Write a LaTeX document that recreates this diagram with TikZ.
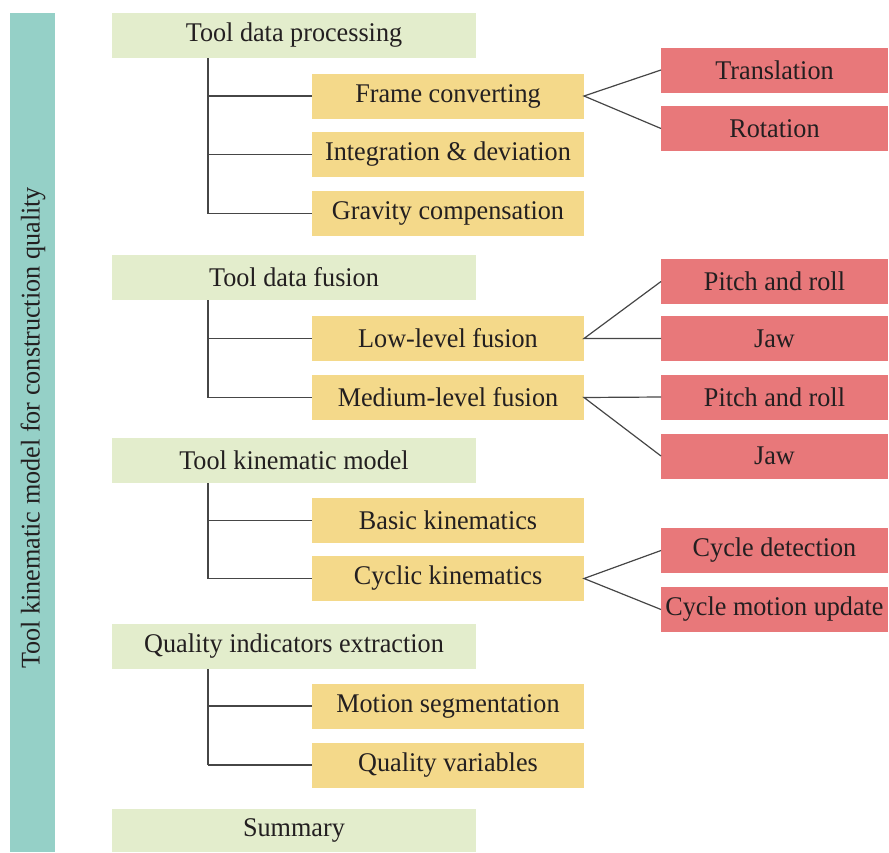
\documentclass[tikz,border=0pt]{standalone}
\usepackage{fontspec}
\setmainfont{Liberation Serif}[FakeStretch=0.97]
\definecolor{barteal}{RGB}{149,208,199}
\definecolor{lvlgreen}{RGB}{227,237,204}
\definecolor{lvlyellow}{RGB}{244,217,138}
\definecolor{lvlred}{RGB}{232,120,122}
\definecolor{inktext}{RGB}{35,31,32}
\definecolor{linkgray}{RGB}{70,70,70}
\begin{document}
\begin{tikzpicture}[x=1pt,y=-1pt,
  every node/.style={inner sep=0pt, outer sep=0pt, text=inktext,
    font=\fontsize{27}{30}\selectfont},
  chapter/.style={fill=lvlgreen, minimum width=364pt, minimum height=45pt},
  section/.style={fill=lvlyellow, minimum width=272pt, minimum height=45pt},
  detail/.style={fill=lvlred, minimum width=227pt, minimum height=45pt},
  link/.style={draw=linkgray, line width=1.2pt}]
\useasboundingbox (0,0) rectangle (889,852);

% vertical title bar
\fill[barteal] (10,13) rectangle (55,852);
\node[rotate=90] (title) at (33,428) {Tool kinematic model for construction quality};

% chapters
\node[chapter] (c1) at (294,35.5) {Tool data processing};
\node[chapter] (c2) at (294,277.5) {Tool data fusion};
\node[chapter] (c3) at (294,460.5) {Tool kinematic model};
\node[chapter] (c4) at (294,646.5) {Quality indicators extraction};
\node[chapter, minimum height=43pt] (c5) at (294,830.5) {Summary};

% sections
\node[section] (s11) at (448,96) {Frame converting};
\node[section] (s12) at (448,154.5) {Integration \& deviation};
\node[section] (s13) at (448,213.5) {Gravity compensation};
\node[section] (s21) at (448,338.5) {Low-level fusion};
\node[section] (s22) at (448,397.5) {Medium-level fusion};
\node[section] (s31) at (448,520.5) {Basic kinematics};
\node[section] (s32) at (448,578.5) {Cyclic kinematics};
\node[section] (s41) at (448,706) {Motion segmentation};
\node[section] (s42) at (448,765) {Quality variables};

% details
\node[detail] (d1) at (774.5,70) {Translation};
\node[detail] (d2) at (774.5,128.5) {Rotation};
\node[detail] (d3) at (774.5,281.5) {Pitch and roll};
\node[detail] (d4) at (774.5,338.5) {Jaw};
\node[detail] (d5) at (774.5,397) {Pitch and roll};
\node[detail] (d6) at (774.5,456) {Jaw};
\node[detail] (d7) at (774.5,550.5) {Cycle detection};
\node[detail] (d8) at (774.5,609.5) {Cycle motion update};

% tree branches
\foreach \c/\last/\list in {c1/s13/{s11,s12,s13}, c2/s22/{s21,s22}, c3/s32/{s31,s32}, c4/s42/{s41,s42}}{
  \draw[link] (\c.south -| 208,0) -- (\last.west -| 208,0);
  \foreach \s in \list { \draw[link] (\s.west -| 208,0) -- (\s.west); }
}

% fan-out connectors
\foreach \s/\a/\b in {s11/d1/d2, s21/d3/d4, s22/d5/d6, s32/d7/d8}{
  \draw[link] (\a.west) -- (\s.east) -- (\b.west);
}
\end{tikzpicture}
\end{document}
